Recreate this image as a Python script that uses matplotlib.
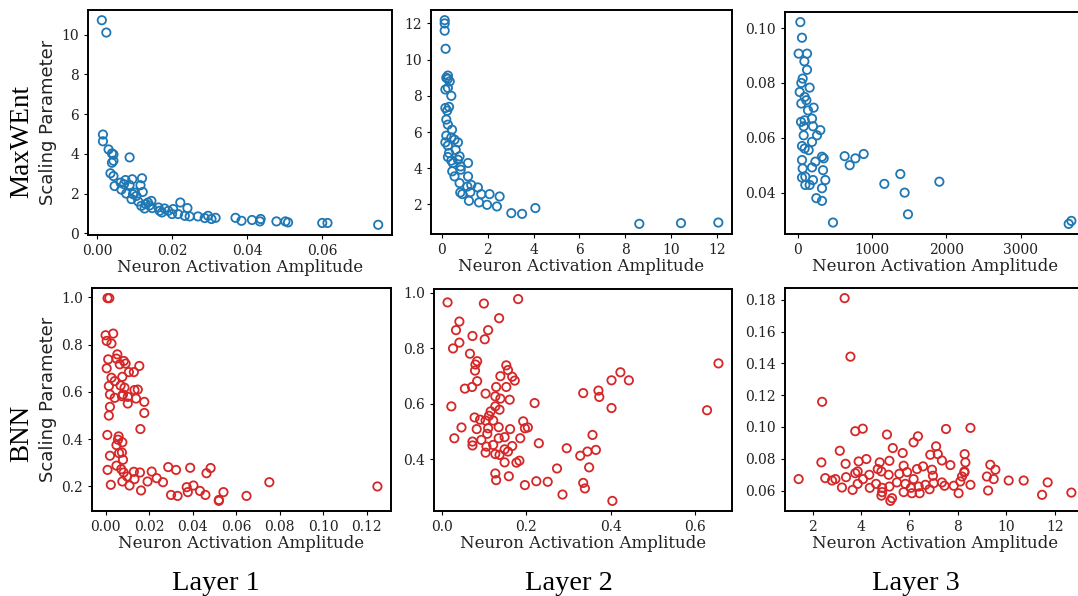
import matplotlib
matplotlib.use('Agg')
import matplotlib.pyplot as plt

# MaxWEnt, layer 1
mw1_x = [0.0013, 0.0025, 0.0016, 0.0016, 0.0031, 0.0040, 0.0044, 0.0040, 0.0044, 0.0087,
         0.0036, 0.0044, 0.0047, 0.0063, 0.0076, 0.0072, 0.0087, 0.0094, 0.0120, 0.0116,
         0.0122, 0.0078, 0.0096, 0.0092, 0.0110, 0.0118, 0.0130, 0.0145, 0.0147, 0.0164,
         0.0173, 0.0180, 0.0200, 0.0203, 0.0222, 0.0216, 0.0241, 0.0247, 0.0234, 0.0269,
         0.0287, 0.0296, 0.0305, 0.0316, 0.0369, 0.0385, 0.0413, 0.0436, 0.0434, 0.0478,
         0.0502, 0.0509, 0.0600, 0.0614, 0.0749, 0.0065, 0.0105, 0.0136, 0.0127, 0.0190,
         0.0167, 0.0100, 0.0140]
mw1_y = [10.72, 10.10, 4.97, 4.63, 4.22, 4.02, 3.97, 3.55, 3.65, 3.82,
         3.02, 2.88, 2.38, 2.55, 2.68, 2.47, 2.43, 2.72, 2.77, 2.42,
         2.08, 2.00, 1.97, 1.72, 1.60, 1.38, 1.47, 1.63, 1.27, 1.30,
         1.05, 1.25, 0.97, 1.22, 1.55, 0.97, 1.27, 0.85, 0.88, 0.85,
         0.77, 0.88, 0.72, 0.78, 0.78, 0.63, 0.67, 0.72, 0.60, 0.60,
         0.60, 0.55, 0.52, 0.52, 0.43, 2.20, 1.88, 1.55, 1.25, 1.13,
         1.13, 2.05, 1.40]

# MaxWEnt, layer 2
mw2_x = [0.12, 0.12, 0.12, 0.16, 0.26, 0.19, 0.26, 0.34, 0.15, 0.26,
         0.41, 0.15, 0.31, 0.23, 0.19, 0.26, 0.44, 0.19, 0.41, 0.15,
         0.26, 0.55, 0.70, 0.60, 0.31, 0.26, 0.41, 0.77, 0.70, 0.48,
         0.45, 0.55, 0.82, 0.82, 1.14, 1.14, 0.77, 0.80, 0.89, 1.11,
         1.28, 1.57, 1.24, 1.72, 1.18, 1.62, 1.97, 2.08, 2.40, 2.52,
         3.03, 3.50, 4.08, 8.62, 10.44, 12.07]
mw2_y = [12.18, 12.00, 11.60, 10.60, 9.12, 9.00, 8.94, 8.80, 8.35, 8.44,
         8.00, 7.33, 7.39, 7.18, 6.69, 6.41, 6.13, 5.80, 5.70, 5.43,
         5.25, 5.58, 5.43, 5.02, 4.84, 4.62, 4.42, 4.66, 4.47, 4.29,
         3.83, 3.55, 3.92, 4.10, 4.29, 3.55, 3.18, 2.66, 2.57, 2.99,
         3.08, 2.94, 2.68, 2.57, 2.20, 2.11, 1.98, 2.57, 1.89, 2.44,
         1.52, 1.48, 1.80, 0.93, 0.97, 1.00]

# MaxWEnt, layer 3
mw3_x = [36, 58, 13, 126, 90, 126, 67, 49, 27, 161,
         94, 117, 49, 215, 139, 45, 94, 193, 81, 206,
         305, 260, 81, 193, 58, 94, 148, 327, 350, 58,
         238, 193, 67, 341, 103, 58, 206, 372, 103, 161,
         327, 251, 327, 475, 632, 700, 776, 888, 1166, 1381,
         1439, 1484, 1906, 3646, 3682]
mw3_y = [0.1022, 0.0965, 0.0907, 0.0907, 0.0879, 0.0848, 0.0816, 0.0800, 0.0767, 0.0783,
         0.0749, 0.0737, 0.0725, 0.0710, 0.0700, 0.0658, 0.0664, 0.0670, 0.0642, 0.0642,
         0.0628, 0.0609, 0.0609, 0.0585, 0.0570, 0.0561, 0.0555, 0.0531, 0.0525, 0.0519,
         0.0513, 0.0492, 0.0488, 0.0482, 0.0458, 0.0455, 0.0446, 0.0446, 0.0428, 0.0428,
         0.0416, 0.0380, 0.0370, 0.0291, 0.0533, 0.0500, 0.0525, 0.0541, 0.0432, 0.0468,
         0.0400, 0.0321, 0.0440, 0.0286, 0.0297]

# BNN, layer 1
bnn1_x = [0.0009, 0.0017, 0.0000, 0.0035, 0.0005, 0.0027, 0.0012, 0.0054, 0.0050, 0.0005,
          0.0065, 0.0084, 0.0092, 0.0107, 0.0130, 0.0155, 0.0027, 0.0042, 0.0069, 0.0077,
          0.0015, 0.0020, 0.0042, 0.0080, 0.0087, 0.0075, 0.0102, 0.0133, 0.0148, 0.0140,
          0.0178, 0.0020, 0.0102, 0.0015, 0.0178, 0.0160, 0.0008, 0.0060, 0.0057, 0.0077,
          0.0050, 0.0020, 0.0062, 0.0075, 0.0080, 0.0050, 0.0072, 0.0009, 0.0083, 0.0130,
          0.0158, 0.0212, 0.0099, 0.0133, 0.0077, 0.0110, 0.0024, 0.0193, 0.0235, 0.0264,
          0.0163, 0.0288, 0.0324, 0.0389, 0.0483, 0.0464, 0.0301, 0.0331, 0.0373, 0.0404,
          0.0378, 0.0434, 0.0459, 0.0521, 0.0521, 0.0542, 0.0648, 0.0753, 0.1250]
bnn1_y = [0.997, 0.997, 0.840, 0.847, 0.816, 0.805, 0.738, 0.759, 0.741, 0.700,
          0.717, 0.731, 0.720, 0.684, 0.684, 0.710, 0.660, 0.646, 0.627, 0.664,
          0.625, 0.589, 0.575, 0.589, 0.618, 0.582, 0.579, 0.608, 0.610, 0.572,
          0.558, 0.537, 0.551, 0.500, 0.511, 0.443, 0.418, 0.412, 0.398, 0.387,
          0.375, 0.330, 0.341, 0.344, 0.313, 0.288, 0.273, 0.270, 0.259, 0.262,
          0.259, 0.263, 0.242, 0.231, 0.221, 0.204, 0.207, 0.221, 0.235, 0.218,
          0.183, 0.282, 0.270, 0.279, 0.278, 0.256, 0.164, 0.160, 0.197, 0.204,
          0.176, 0.181, 0.164, 0.143, 0.139, 0.176, 0.160, 0.218, 0.200]

# BNN, layer 2
bnn2_x = [0.014, 0.100, 0.181, 0.042, 0.136, 0.034, 0.110, 0.042, 0.102, 0.073,
          0.027, 0.067, 0.084, 0.080, 0.079, 0.072, 0.084, 0.055, 0.139, 0.153,
          0.157, 0.167, 0.173, 0.153, 0.129, 0.104, 0.127, 0.139, 0.161, 0.137,
          0.127, 0.116, 0.112, 0.023, 0.220, 0.335, 0.371, 0.373, 0.402, 0.423,
          0.443, 0.402, 0.655, 0.628, 0.078, 0.091, 0.083, 0.047, 0.030, 0.073,
          0.073, 0.094, 0.108, 0.110, 0.104, 0.122, 0.135, 0.135, 0.122, 0.106,
          0.104, 0.127, 0.137, 0.149, 0.149, 0.162, 0.157, 0.167, 0.186, 0.193,
          0.197, 0.204, 0.149, 0.177, 0.184, 0.230, 0.127, 0.129, 0.159, 0.197,
          0.224, 0.251, 0.273, 0.296, 0.286, 0.328, 0.345, 0.335, 0.339, 0.349,
          0.357, 0.365, 0.404]
bnn2_y = [0.966, 0.962, 0.978, 0.897, 0.909, 0.866, 0.866, 0.821, 0.833, 0.845,
          0.800, 0.781, 0.754, 0.742, 0.720, 0.661, 0.682, 0.655, 0.700, 0.739,
          0.722, 0.698, 0.684, 0.661, 0.661, 0.637, 0.627, 0.619, 0.615, 0.579,
          0.591, 0.573, 0.557, 0.591, 0.603, 0.639, 0.648, 0.625, 0.685, 0.714,
          0.685, 0.585, 0.746, 0.577, 0.551, 0.543, 0.509, 0.515, 0.476, 0.464,
          0.450, 0.470, 0.492, 0.512, 0.540, 0.540, 0.516, 0.476, 0.452, 0.446,
          0.424, 0.419, 0.416, 0.480, 0.436, 0.509, 0.428, 0.448, 0.476, 0.537,
          0.512, 0.515, 0.389, 0.388, 0.395, 0.458, 0.349, 0.325, 0.339, 0.307,
          0.321, 0.319, 0.367, 0.440, 0.273, 0.413, 0.428, 0.315, 0.295, 0.371,
          0.488, 0.434, 0.250]

# BNN, layer 3
bnn3_x = [3.32, 3.56, 2.39, 3.76, 4.07, 5.07, 6.35, 6.17, 7.51, 8.52,
          3.12, 2.36, 3.36, 3.90, 4.22, 5.31, 5.72, 5.17, 4.77, 5.76,
          7.10, 6.86, 7.17, 7.34, 7.69, 8.28, 8.31, 8.27, 6.56, 6.93,
          6.31, 5.90, 5.58, 5.14, 4.69, 4.84, 4.34, 3.76, 3.86, 3.38,
          2.52, 2.80, 2.94, 1.42, 3.21, 3.65, 3.86, 4.08, 4.36, 4.62,
          4.87, 4.84, 4.87, 5.17, 5.28, 5.21, 5.48, 5.76, 5.83, 6.06,
          6.10, 6.17, 6.38, 6.42, 6.66, 6.83, 6.97, 7.00, 7.34, 7.45,
          7.83, 8.03, 8.10, 8.17, 8.27, 8.52, 9.20, 9.25, 9.34, 9.48,
          9.55, 10.10, 10.72, 11.48, 11.71, 12.69]
bnn3_y = [0.1810, 0.1442, 0.1158, 0.0973, 0.0989, 0.0952, 0.0941, 0.0903, 0.0987, 0.0994,
          0.0850, 0.0777, 0.0768, 0.0783, 0.0798, 0.0867, 0.0836, 0.0787, 0.0777, 0.0756,
          0.0878, 0.0825, 0.0829, 0.0789, 0.0760, 0.0829, 0.0777, 0.0720, 0.0752, 0.0731,
          0.0735, 0.0716, 0.0705, 0.0699, 0.0735, 0.0720, 0.0699, 0.0709, 0.0720, 0.0684,
          0.0678, 0.0663, 0.0672, 0.0672, 0.0619, 0.0604, 0.0642, 0.0672, 0.0617, 0.0642,
          0.0617, 0.0568, 0.0590, 0.0625, 0.0552, 0.0535, 0.0651, 0.0590, 0.0642, 0.0617,
          0.0583, 0.0672, 0.0625, 0.0583, 0.0636, 0.0608, 0.0693, 0.0646, 0.0651, 0.0630,
          0.0630, 0.0583, 0.0657, 0.0688, 0.0714, 0.0636, 0.0688, 0.0600, 0.0762, 0.0672,
          0.0731, 0.0663, 0.0663, 0.0573, 0.0651, 0.0587]

row_names = ['MaxWEnt', 'BNN']
col_names = ['Layer 1', 'Layer 2', 'Layer 3']
row_colors = ['#1f77b4', '#d62728']

W, H = 1078.0, 596.0
# panel boxes in pixels: left, top, right, bottom
boxes = [
    [(88, 10, 392, 235), (431, 10, 732, 234), (785, 12, 1085, 234)],
    [(92, 288, 391, 511), (434, 289, 732, 511), (785, 288, 1085, 511)],
]
data = [
    [(mw1_x, mw1_y), (mw2_x, mw2_y), (mw3_x, mw3_y)],
    [(bnn1_x, bnn1_y), (bnn2_x, bnn2_y), (bnn3_x, bnn3_y)],
]

fig = plt.figure(figsize=(W / 100, H / 100), dpi=100)

for r in range(2):
    for c in range(3):
        l, t, rt, b = boxes[r][c]
        ax = fig.add_axes([l / W, 1 - b / H, (rt - l) / W, (b - t) / H])
        x, y = data[r][c]
        ax.scatter(x, y, s=36, facecolors='none', edgecolors=row_colors[r], linewidths=1.3)
        for sp in ax.spines.values():
            sp.set_linewidth(1.4)
            sp.set_color('black')
        ax.tick_params(labelsize=10, length=3, width=0.8)
        for lab in ax.get_xticklabels() + ax.get_yticklabels():
            lab.set_family('DejaVu Serif')
            lab.set_color('#222222')
        ax.set_xlabel('Neuron Activation Amplitude', family='DejaVu Serif', fontsize=12,
                      labelpad=1, color='#222222')
        if c == 0:
            ax.set_ylabel('Scaling Parameter', family='DejaVu Sans', fontsize=13,
                          labelpad=3, color='#222222')

# row and column titles
fig.text(22 / W, 1 - 141 / H, row_names[0], family='Liberation Serif', fontsize=19.5,
         rotation=90, ha='center', va='center')
fig.text(22 / W, 1 - 433 / H, row_names[1], family='Liberation Serif', fontsize=19.5,
         rotation=90, ha='center', va='center')
for c, cx in enumerate([216, 569, 916]):
    fig.text(cx / W, 1 - 583 / H, col_names[c], family='Liberation Serif', fontsize=20.5,
             ha='center', va='center')

fig.savefig('out.png', dpi=100)
